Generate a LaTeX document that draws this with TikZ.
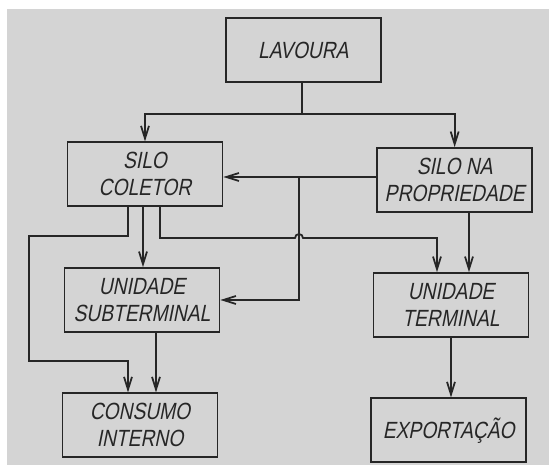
\documentclass[tikz,border=0pt]{standalone}
\usepackage{fontspec}
\newfontfamily\techfont[FakeStretch = 0.82, FakeSlant = 0.2]{Liberation Sans}
\usepackage{tikz}
\usetikzlibrary{arrows.meta}

\begin{document}
\begin{tikzpicture}[
    box/.style = {draw = black!85, line width = 1.5pt, minimum width = 4.65cm, minimum height = 1.92cm, inner sep = 2pt, align = center, text = black!85, font = \techfont\fontsize{20}{23}\selectfont},
    link/.style = {draw = black!85, line width = 1.5pt},
    flow/.style = {link, -{Straight Barb[length = 3.8mm, width = 2.4mm]}}
]
    \useasboundingbox (0, 0) rectangle (16.47, 13.95);
    \fill [black!17] (0.21, 0) rectangle (16.47, 13.68);
    \node [box] (lavoura) at (9.10, 12.45) {LAVOURA};
    \node [box] (coletor) at (4.35, 8.72) {SILO\\COLETOR};
    \node [box] (propriedade) at (13.64, 8.55) {SILO NA\\PROPRIEDADE};
    \node [box] (subterminal) at (4.26, 4.95) {UNIDADE\\SUBTERMINAL};
    \node [box] (terminal) at (13.53, 4.80) {UNIDADE\\TERMINAL};
    \node [box] (consumo) at (4.20, 1.19) {CONSUMO\\INTERNO};
    \node [box] (exportacao) at (13.46, 1.04) {EXPORTAÇÃO};
    % lavoura splits to both silos
    \coordinate (split) at (9.06, 10.53);
    \draw [link] (lavoura.south -| split) -- (split);
    \draw [flow] (split) -| (coletor.north);
    \draw [flow] (split) -| (propriedade.north);
    % silo na propriedade
    \coordinate (cross) at (8.97, 8.64);
    \coordinate (downC) at (14.07, 0);
    \draw [flow] (propriedade.west |- cross) -- (coletor.east |- cross);
    \draw [flow] (cross) |- (subterminal.east);
    \draw [flow] (propriedade.south -| downC) -- (terminal.north -| downC);
    % silo coletor
    \coordinate (outA) at (0.87, 6.87);
    \coordinate (outB) at (3.84, 3.12);
    \coordinate (downB) at (4.29, 0);
    \coordinate (overA) at (4.80, 6.81);
    \coordinate (overB) at (13.11, 6.81);
    \draw [flow] (coletor.south -| outB) |- (outA) |- (outB) -- (outB |- consumo.north);
    \draw [flow] (coletor.south -| downB) -- (subterminal.north -| downB);
    \draw [flow] (coletor.south -| overA) -- (overA) -- ([xshift = -0.12cm] cross |- overA)
        arc [start angle = 180, end angle = 0, radius = 0.12] -- (overB) -- (overB |- terminal.north);
    % to the end users
    \coordinate (downD) at (4.68, 0);
    \draw [flow] (subterminal.south -| downD) -- (consumo.north -| downD);
    \draw [flow] (terminal.south) -- (terminal.south |- exportacao.north);
\end{tikzpicture}
\end{document}
